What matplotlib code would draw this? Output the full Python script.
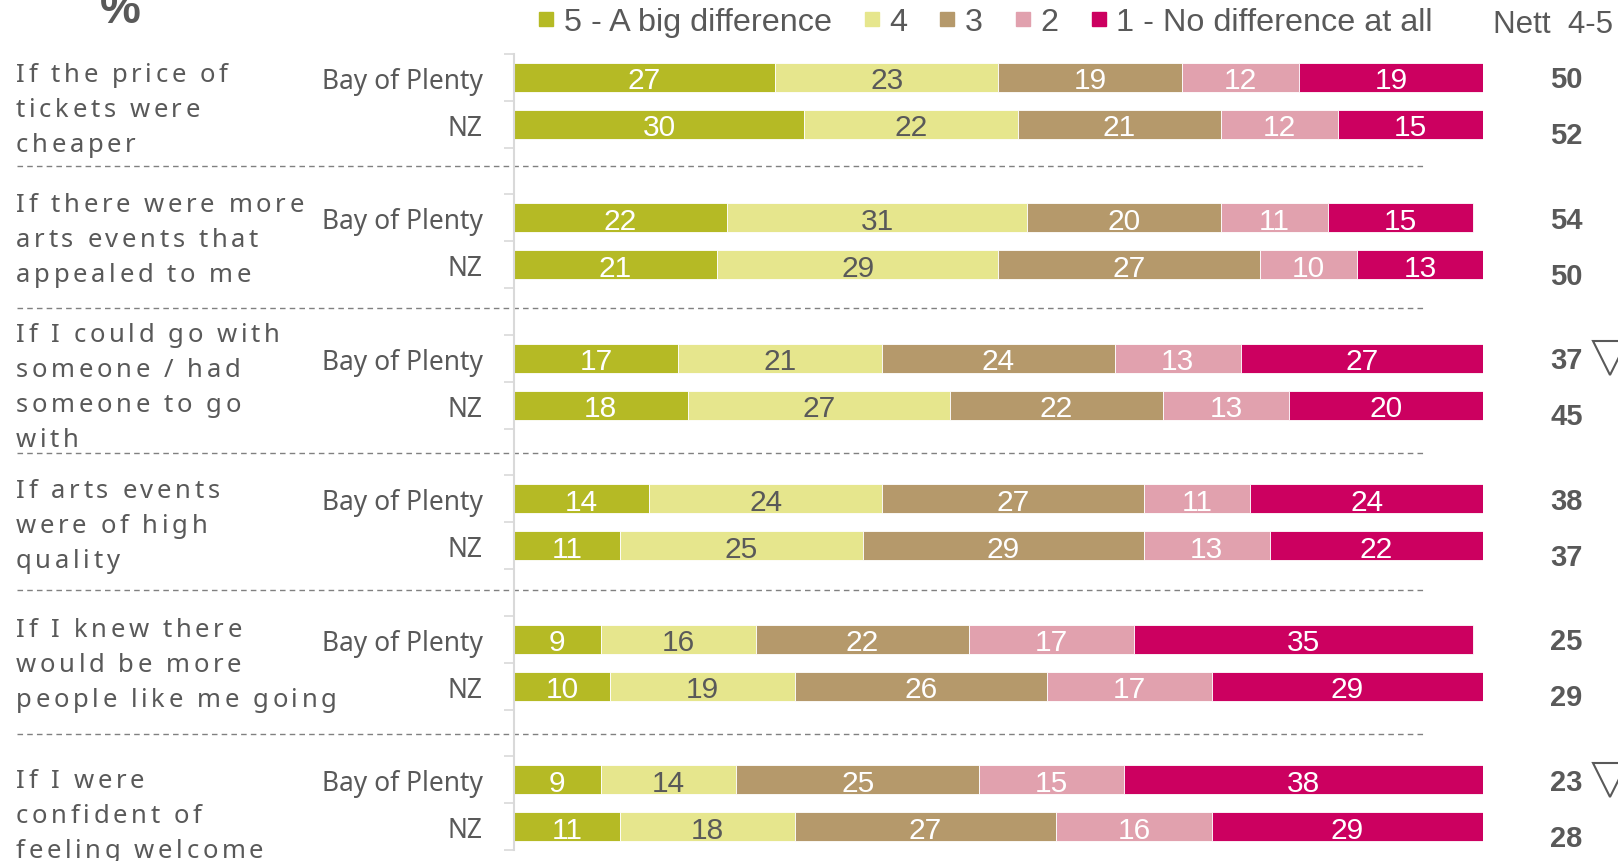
import matplotlib
matplotlib.use('Agg')
import matplotlib.pyplot as plt
import numpy as np
from matplotlib import transforms
from matplotlib.font_manager import FontProperties, findfont, get_font
from matplotlib.lines import Line2D

W, H, DPI = 1618, 862, 100
GREY = '#595959'
LABEL_FONT = 'Noto Sans'
LABEL_WEIGHT = 'medium'
NUM_FONT = ['Liberation Sans', 'DejaVu Sans']

# survey data: % of respondents per answer, Bay of Plenty vs NZ
questions = [
	['If the price of', 'tickets were', 'cheaper'],
	['If there were more', 'arts events that', 'appealed to me'],
	['If I could go with', 'someone / had', 'someone to go', 'with'],
	['If arts events', 'were of high', 'quality'],
	['If I knew there', 'would be more', 'people like me going'],
	['If I were', 'confident of', 'feeling welcome'],
]
areas = ['Bay of Plenty', 'NZ']
levels = ['5 - A big difference', '4', '3', '2', '1 - No difference at all']
colours = ['#B5BA25', '#E6E68D', '#B5996B', '#E1A1AE', '#CC0060']
label_colours = ['white', GREY, 'white', 'white', 'white']

bop = [[27, 23, 19, 12, 19],
	[22, 31, 20, 11, 15],
	[17, 21, 24, 13, 27],
	[14, 24, 27, 11, 24],
	[9, 16, 22, 17, 35],
	[9, 14, 25, 15, 38]]
nz = [[30, 22, 21, 12, 15],
	[21, 29, 27, 10, 13],
	[18, 27, 22, 13, 20],
	[11, 25, 29, 13, 22],
	[10, 19, 26, 17, 29],
	[11, 18, 27, 16, 29]]
nett_bop = [50, 54, 37, 38, 25, 23]
nett_nz = [52, 50, 45, 37, 29, 28]
bop_lower = [False, False, True, False, False, True]

# layout bits
label_nudge = [0.08, -0.15, -0.37, -0.04, -0.07, 0.15]
sep_y = [1.89, 4.93, 8.02, 10.95, 14.02]
line_px = 35
tracking_px = 3.6
label_size = 18.5


def tracked_text(fig, trans, x_px, y, s, size, tracking, **kw):
	'''
		draw a line of text one glyph at a time with extra letter spacing
	'''
	prop = FontProperties(family=LABEL_FONT, size=size, weight=LABEL_WEIGHT)
	ft = get_font(findfont(prop), hinting_factor=1)
	ft.set_size(size, fig.dpi)
	dx = 0.0
	for ch in s:
		t = transforms.offset_copy(trans, fig=fig, x=x_px + dx, y=0, units='dots')
		if ch != ' ':
			fig.text(0, y, ch, transform=t, fontproperties=prop, va='baseline', ha='left', **kw)
		dx += ft.load_char(ord(ch)).linearHoriAdvance / 65536 + tracking


fig = plt.figure(figsize=(W / DPI, H / DPI), dpi=DPI)
ax = fig.add_axes([513.5 / W, 1 - 851 / H, 969.5 / W, 796 / H])

rows, data = [], []
for g in range(len(questions)):
	rows += [3 * g, 3 * g + 1]
	data += [bop[g], nz[g]]
data = np.array(data)

left = np.zeros(len(rows))
for k in range(len(levels)):
	bars = ax.barh(rows, data[:, k], left=left, height=0.62, color=colours[k],
		edgecolor='white', linewidth=0.6, label=levels[k])
	texts = ax.bar_label(bars, labels=[str(v) for v in data[:, k]], label_type='center',
		color=label_colours[k], fontsize=21.5, family=NUM_FONT)
	for t in texts:
		t.set_va('center_baseline')
	left += data[:, k]

ax.set_xlim(0, 100)
ax.set_ylim(16.5, -0.5)
ax.xaxis.set_visible(False)
for s in ['top', 'right', 'bottom']:
	ax.spines[s].set_visible(False)
ax.spines['left'].set_color('#D9D9D9')
ax.spines['left'].set_linewidth(1.5)

ax.set_yticks(np.arange(-0.5, 17, 1))
ax.set_yticklabels([])
ax.set_yticks(rows, minor=True)
ax.set_yticklabels([areas[i % 2] for i in range(len(rows))], minor=True)
ax.tick_params(axis='y', which='major', length=7.5, width=1.2, color='#D9D9D9', direction='out')
ax.tick_params(axis='y', which='minor', length=0, pad=22, labelsize=19, labelcolor=GREY)
for t in ax.get_yticklabels(minor=True):
	t.set_fontfamily(LABEL_FONT)
	t.set_fontweight(LABEL_WEIGHT)

# dashed separators between questions
for y in sep_y:
	ax.plot([-51.2, 93.9], [y, y], ls=(0, (4, 3)), color='#808080', lw=1, clip_on=False)

# question labels, letter spaced
blend = transforms.blended_transform_factory(fig.transFigure, ax.transData)
for g, lines in enumerate(questions):
	for i, line in enumerate(lines):
		tr = transforms.offset_copy(blend, fig=fig, y=-line_px * i, units='dots')
		tracked_text(fig, tr, 16, 3 * g + label_nudge[g], line, label_size, tracking_px, color=GREY)

# nett 4-5 column
for g in range(len(questions)):
	ax.text(108.6, 3 * g - 0.02, str(nett_bop[g]), ha='center', va='center_baseline', fontsize=21,
		fontweight='bold', color=GREY, family=NUM_FONT)
	ax.text(108.6, 3 * g + 1.17, str(nett_nz[g]), ha='center', va='center_baseline', fontsize=21,
		fontweight='bold', color=GREY, family=NUM_FONT)
	if bop_lower[g]:
		ax.plot(113.1, 3 * g, marker='v', ms=25, mfc='none', mec=GREY, mew=1.5, clip_on=False)

handles = [Line2D([], [], ls='none', marker='s', ms=9.5, color=c) for c in colours]
fig.legend(handles, levels, loc='upper left', bbox_to_anchor=(538 / W, 1 - 8 / H), ncol=5,
	frameon=False, prop=FontProperties(family=NUM_FONT, size=23.3), handlelength=0.5,
	handletextpad=0.3, columnspacing=0.98, borderaxespad=0, borderpad=0, labelcolor=GREY)
fig.text(1493 / W, 1 - 33 / H, 'Nett  4-5', va='baseline', fontsize=22.5, color=GREY, family=NUM_FONT)
fig.text(120 / W, 1 - 23 / H, '%', ha='center', va='baseline', fontsize=33, fontweight='bold',
	color=GREY, family=NUM_FONT)

fig.savefig('out.png', dpi=DPI)
